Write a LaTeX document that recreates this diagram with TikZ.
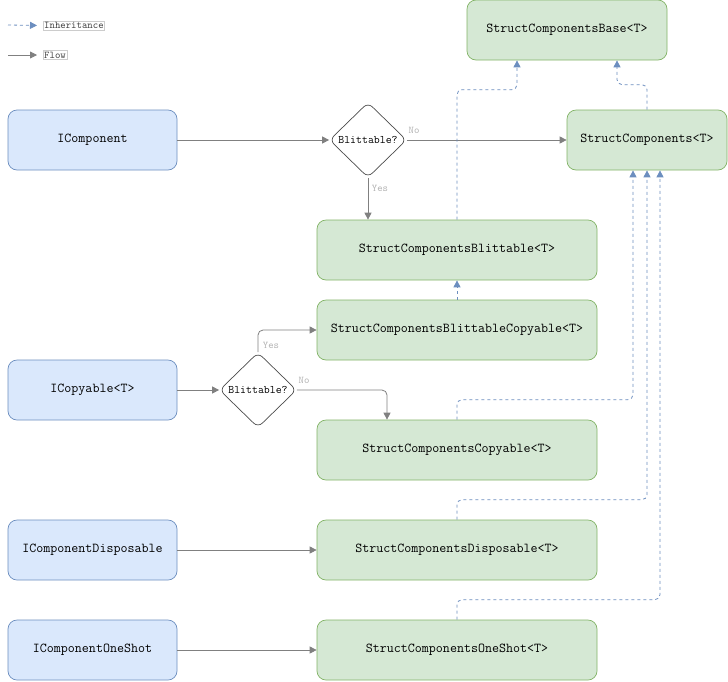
\documentclass[tikz,border=0pt]{standalone}
\usepackage{fontspec}
\usetikzlibrary{arrows.meta,shapes.geometric}
\definecolor{ifill}{HTML}{DAE8FC}
\definecolor{iline}{HTML}{6C8EBF}
\definecolor{sfill}{HTML}{D5E8D4}
\definecolor{sline}{HTML}{82B366}
\definecolor{flowc}{HTML}{808080}
\definecolor{lblc}{HTML}{B3B3B3}
\begin{document}
\begin{tikzpicture}[x=1pt,y=-1pt,
  iface/.style={draw=iline,fill=ifill,line width=0.7pt,rounded corners=9pt,minimum width=169pt,minimum height=60pt,font=\ttfamily\fontsize{13.6}{15}\selectfont},
  impl/.style={draw=sline,fill=sfill,line width=0.7pt,rounded corners=9pt,minimum height=60pt,font=\ttfamily\fontsize{13.6}{15}\selectfont},
  check/.style={diamond,draw=black!70,fill=white,line width=0.7pt,rounded corners=6pt,minimum width=77pt,minimum height=75pt,inner sep=0pt,font=\ttfamily\fontsize{11.5}{13}\selectfont},
  flow/.style={draw=flowc,line width=0.8pt,rounded corners=5pt,-{Triangle[length=7pt,width=7pt]}},
  inh/.style={draw=iline,line width=0.8pt,dash pattern=on 3pt off 3pt,rounded corners=5pt,-{Triangle[length=7pt,width=7pt]}},
  lbl/.style={text=lblc,font=\ttfamily\fontsize{10.3}{11}\selectfont,inner sep=1pt},
  keybox/.style={draw=black!20,text=black!75,font=\ttfamily\fontsize{10.3}{11}\selectfont,inner xsep=1pt,inner ysep=1.5pt,anchor=west}]
\useasboundingbox (0,0) rectangle (728,681);

% legend
\coordinate (kinhs) at (8,25);
\coordinate (kflows) at (8,55);
\node[keybox] (kinh) at (43,25.5) {Inheritance};
\node[keybox] (kflow) at (43,55) {Flow};
\draw[inh,shorten >=6pt] (kinhs) -- (kinh.west);
\draw[flow,shorten >=6pt] (kflows) -- (kflow.west);

% interfaces
\node[iface] (icomp) at (92.5,140) {IComponent};
\node[iface] (icopy) at (92.5,390) {ICopyable<T>};
\node[iface] (idisp) at (92.5,550) {IComponentDisposable};
\node[iface] (ishot) at (92.5,650) {IComponentOneShot};

% checks
\node[check] (chk1) at (368,140) {Blittable?};
\node[check] (chk2) at (258,390) {Blittable?};

% structs
\node[impl,minimum width=200pt] (base) at (567,30) {StructComponentsBase<T>};
\node[impl,minimum width=160pt] (sc) at (647,140) {StructComponents<T>};
\node[impl,minimum width=280pt] (blit) at (457,250) {StructComponentsBlittable<T>};
\node[impl,minimum width=280pt] (bcopy) at (457,330) {StructComponentsBlittableCopyable<T>};
\node[impl,minimum width=280pt] (copy) at (457,450) {StructComponentsCopyable<T>};
\node[impl,minimum width=280pt] (disp) at (457,550) {StructComponentsDisposable<T>};
\node[impl,minimum width=280pt] (shot) at (457,650) {StructComponentsOneShot<T>};

% flow
\draw[flow] (icomp) -- (chk1);
\draw[flow] (chk1) -- (sc);
\draw[flow] (chk1.south) -- (chk1.south |- blit.north);
\draw[flow] (icopy) -- (chk2);
\draw[flow] (chk2.north) |- (bcopy.west);
\draw[flow] (chk2.east) -| ([xshift=-70pt]copy.north);
\draw[flow] (idisp) -- (disp);
\draw[flow] (ishot) -- (shot);
\node[lbl] (no1) at (414,130) {No};
\node[lbl] (yes1) at (380,188) {Yes};
\node[lbl] (yes2) at (271,345) {Yes};
\node[lbl] (no2) at (304,380) {No};

% inheritance
\draw[inh] (blit.north) -- ++(0,-130) -| ([xshift=-50pt]base.south);
\draw[inh] (sc.north) -- ++(0,-25) -| ([xshift=50pt]base.south);
\draw[inh] (bcopy) -- (blit);
\draw[inh] (copy.north) -- ++(0,-20) -| ([xshift=-14pt]sc.south);
\draw[inh] (disp.north) -- ++(0,-20) -| (sc.south);
\draw[inh] (shot.north) -- ++(0,-20) -| ([xshift=13pt]sc.south);
\end{tikzpicture}
\end{document}
